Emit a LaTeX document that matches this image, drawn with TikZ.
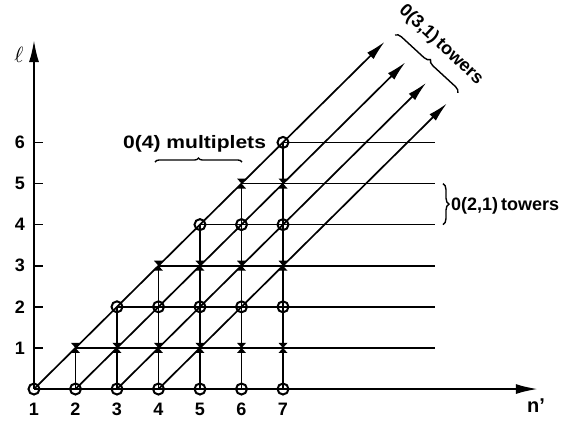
\documentclass[tikz,border=0pt]{standalone}
\usepackage{graphicx}
\usepackage{fontspec}
\setmainfont{Liberation Sans}
\usetikzlibrary{arrows.meta,decorations.pathreplacing}
\begin{document}
\begin{tikzpicture}[x=41.5pt,y=41.1pt,
  lab/.style={font=\bfseries\fontsize{18}{18}\selectfont, inner sep=0pt},
  gridline/.style={line width=1.7pt},
  axisline/.style={line width=2pt, -{Latex[length=22pt,width=10pt]}},
  diagline/.style={line width=1.7pt, -{Latex[length=20pt,width=9pt]}},
  circ/.style={circle, draw, line width=2pt, minimum size=11pt, inner sep=0pt},
  xmark/.style={rectangle, minimum width=9pt, minimum height=10pt, inner sep=0pt,
    path picture={\fill (path picture bounding box.north west) -- (path picture bounding box.north east)
      -- (path picture bounding box.south west) -- (path picture bounding box.south east) -- cycle;}},
  brc/.style={decorate, decoration={brace, amplitude=#1}, line width=1.4pt},
  brc/.default=6pt
]
\useasboundingbox (0.181,-0.779) rectangle (13.795,9.465);

% grid points
\foreach \n in {1,...,7}{
  \pgfmathtruncatemacro{\lmax}{\n-1}
  \foreach \l in {0,...,\lmax}{
    \pgfmathtruncatemacro{\odd}{mod(\l,2)}
    \ifnum\odd=0
      \node[circ] (p-\n-\l) at (\n,\l) {};
    \else
      \node[xmark] (p-\n-\l) at (\n,\l) {};
    \fi
  }
}

% horizontal lines
\foreach \l in {1,...,6}{
  \pgfmathtruncatemacro{\s}{\l+1}
  \coordinate (h-\l) at (10.66,\l);
  \draw[gridline] (p-\s-\l.center) -- (h-\l);
}
% vertical lines
\foreach \n in {2,...,7}{
  \pgfmathtruncatemacro{\lmax}{\n-1}
  \draw[gridline] (p-\n-0.center) -- (p-\n-\lmax.center);
}
% diagonal towers
\foreach \k in {1,...,4}{
  \pgfmathsetmacro{\L}{8.95-0.5*\k}
  \coordinate (t-\k) at ({\k+\L},\L);
  \draw[diagline] (p-\k-0.center) -- (t-\k);
}

% axes
\coordinate (xend) at (13.14,0);
\coordinate (yend) at (1,8.49);
\draw[axisline] (p-1-0.center) -- (xend);
\draw[axisline] (p-1-0.center) -- (yend);

% ticks and labels
\foreach \l in {1,...,6}{
  \coordinate (ta-\l) at (1,\l);
  \coordinate (tb-\l) at (1.22,\l);
  \draw[gridline] (ta-\l) -- (tb-\l);
  \node[lab] (yl-\l) at (0.663,\l) {\l};
}
\foreach \n in {1,...,7}{
  \node[lab] (xl-\n) at (\n,-0.487) {\n};
}
\node[lab] (nlab) at (13.096,-0.414) {\fontsize{20}{20}\selectfont n’};
\node[inner sep=0pt] (ell) at (0.64,8.127) {\scalebox{2.2}{$\ell$}};

% annotations
\node[lab, anchor=base west] (mult) at (3.145,5.864) {\scalebox{1.17}[1]{0(4) multiplets}};
\coordinate (mb1) at (3.916,5.523);
\coordinate (mb2) at (6.012,5.523);
\draw[brc=4pt] (mb1) -- (mb2);

\coordinate (tb21a) at (10.855,5);
\coordinate (tb21b) at (10.855,4);
\draw[brc=6pt] (tb21a) -- (tb21b);
\node[lab, anchor=base west] (t21) at (11.048,4.355) {0(2,1)\,towers};

\coordinate (tb31a) at (9.699,8.613);
\coordinate (tb31b) at (11.217,7.202);
\draw[brc=6pt] (tb31a) -- (tb31b);
\node[lab, rotate=-43] (t31) at (10.807,8.370) {0(3,1)\,towers};
\end{tikzpicture}
\end{document}
